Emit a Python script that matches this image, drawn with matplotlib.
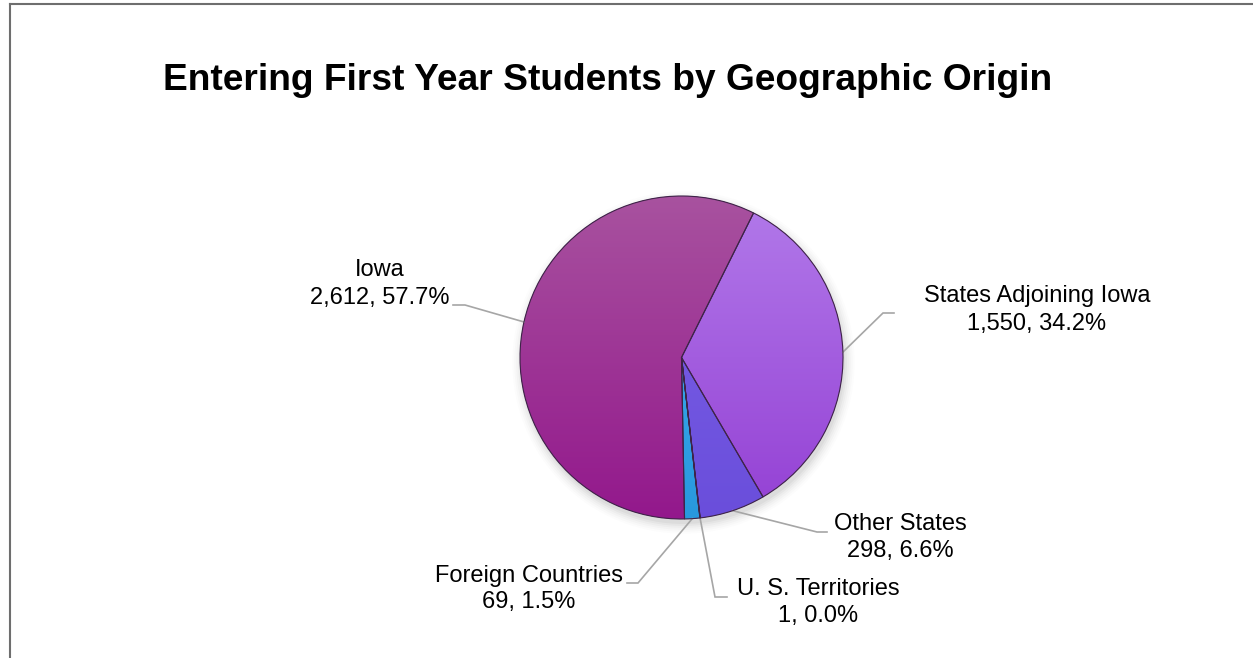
import numpy as np
import matplotlib
matplotlib.use("Agg")
import matplotlib.pyplot as plt
from matplotlib.lines import Line2D
from matplotlib.patches import Wedge
from matplotlib.colors import to_rgb

# ---- data ----
categories = ["States Adjoining Iowa", "Other States", "U. S. Territories",
              "Foreign Countries", "Iowa"]
counts = [1550, 298, 1, 69, 2612]
title = "Entering First Year Students by Geographic Origin"

# ---- style ----
top_colors = ["#B27AEA", "#7C62E8", "#4A8FE0", "#45B2F2", "#A8529F"]
bot_colors = ["#9440D4", "#6A4EDB", "#3A7AD0", "#2898DE", "#93188C"]

W, H, DPI = 1253, 658, 100
fig = plt.figure(figsize=(W / DPI, H / DPI), dpi=DPI)
plt.rcParams['font.family'] = ['Liberation Sans', 'DejaVu Sans']

CX, CY, R = 681.5, 357.5, 161.5  # pixel center / radius of pie
ax = fig.add_axes([0, 0, 1, 1])


def px(x, y):
    return ((x - CX) / R, (CY - y) / R)


# soft shadow
for i, a in enumerate(np.linspace(0.035, 0.01, 6)):
    sh = plt.Circle(px(CX + 2, CY + 5), 1.0 + i * 0.012, color='#000000',
                    alpha=a, lw=0, zorder=0)
    ax.add_patch(sh)

wedges, _ = ax.pie(counts, startangle=63.5, counterclock=False, radius=1,
                   colors=bot_colors,
                   wedgeprops=dict(edgecolor='none', linewidth=0))

for w, c1, c2 in zip(wedges, top_colors, bot_colors):
    t = np.linspace(0, 1, 256)[:, None]
    grad = (1 - t)[..., None] * np.array(to_rgb(c1)) + t[..., None] * np.array(to_rgb(c2))
    im = ax.imshow(grad, extent=(-1, 1, -1, 1), origin='upper',
                   interpolation='bilinear', zorder=w.get_zorder())
    im.set_clip_path(w)
    ow = Wedge(w.center, w.r, w.theta1, w.theta2, fill=False,
               edgecolor='#3E2448', lw=0.8, zorder=w.get_zorder() + 0.5)
    ax.add_patch(ow)

total = sum(counts)

# label layout (pixels): center x, baseline1, baseline2, elbow, line end
layout = {
    "Iowa": (380, 276, 304, (465, 305), (453, 305)),
    "States Adjoining Iowa": (1037, 302, 330, (883, 313), (894, 313)),
    "Other States": (900, 530, 557, (817, 532), (827, 532)),
    "U. S. Territories": (818, 595, 622, (715, 597), (727, 597)),
    "Foreign Countries": (529, 582, 608, (638, 583), (627, 583)),
}

for w, cat, v in zip(wedges, categories, counts):
    cx_, b1, b2, elbow, end = layout[cat]
    ang = np.deg2rad((w.theta1 + w.theta2) / 2)
    start = (np.cos(ang), np.sin(ang))
    e = px(*elbow)
    f = px(*end)
    ax.plot([start[0], e[0], f[0]], [start[1], e[1], f[1]], color='#A6A6A6',
            lw=1.2, zorder=1, solid_joinstyle='miter')
    pct = 100 * v / total
    ax.text(*px(cx_, b1), cat, ha='center', va='baseline', fontsize=17,
            color='black')
    ax.text(*px(cx_, b2), f"{v:,}, {pct:.1f}%", ha='center', va='baseline',
            fontsize=17, color='black')

ax.set_xlim((0 - CX) / R, (W - CX) / R)
ax.set_ylim((CY - H) / R, CY / R)
ax.set_aspect('auto')
ax.axis('off')

fig.text(608 / W, 1 - 90 / H, title, ha='center', va='baseline',
         fontsize=26.7, fontweight='bold', color='black')

# chart border (left and top)
fig.add_artist(Line2D([9.5 / W, 9.5 / W], [0, 1 - 4 / H],
                      transform=fig.transFigure, color='#6E6E6E', lw=1.5))
fig.add_artist(Line2D([9.5 / W, 1], [1 - 4 / H, 1 - 4 / H],
                      transform=fig.transFigure, color='#6E6E6E', lw=1.5))

fig.savefig("out.png", dpi=DPI)
